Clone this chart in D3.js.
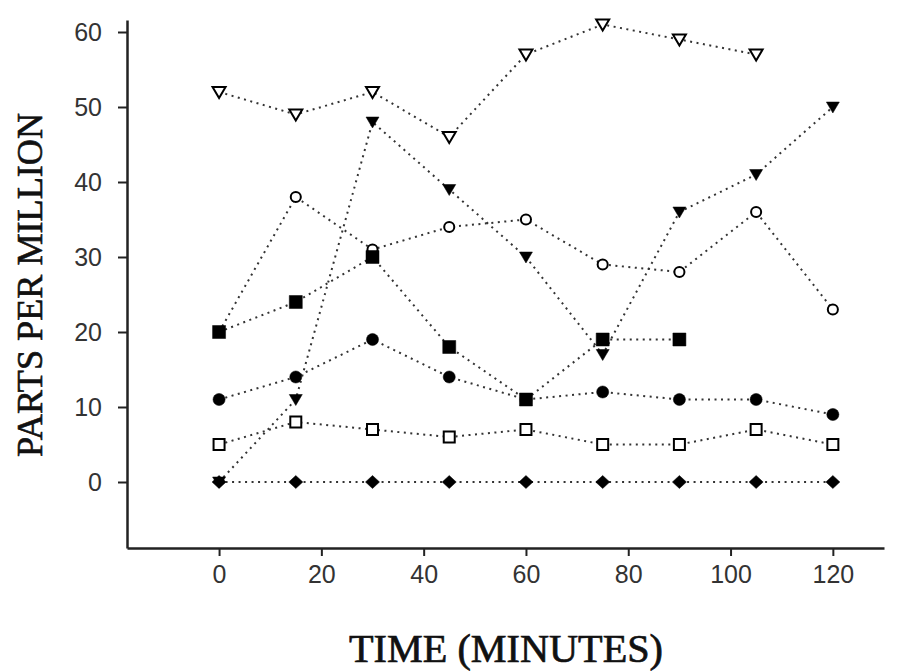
<!DOCTYPE html>
<html>
<head>
<meta charset="utf-8">
<script src="https://cdn.jsdelivr.net/npm/d3@7"></script>
<style>
  body { margin: 0; background: #fff; }
</style>
</head>
<body>
<div id="chart"></div>
<script>
// sampling times (minutes) and ppm readings per series
const times = [0, 15, 30, 45, 60, 75, 90, 105, 120];
const openTriangle = [52, 49, 52, 46, 57, 61, 59, 57, null];
const filledTriangle = [0, 11, 48, 39, 30, 17, 36, 41, 50];
const openCircle = [20, 38, 31, 34, 35, 29, 28, 36, 23];
const filledSquare = [20, 24, 30, 18, 11, 19, 19, null, null];
const filledCircle = [11, 14, 19, 14, 11, 12, 11, 11, 9];
const openSquare = [5, 8, 7, 6, 7, 5, 5, 7, 5];
const filledDiamond = [0, 0, 0, 0, 0, 0, 0, 0, 0];

const xTicks = [0, 20, 40, 60, 80, 100, 120];
const yTicks = [0, 10, 20, 30, 40, 50, 60];

const width = 900, height = 671;

const svg = d3.select("#chart").append("svg")
    .attr("width", width)
    .attr("height", height);

const x = d3.scaleLinear().domain([-18, 130]).range([127, 884]);
const y = d3.scaleLinear().domain([-8.8, 61.6]).range([548, 20]);

// axes
const xAxis = svg.append("g")
    .attr("transform", `translate(0,${y.range()[0]})`)
    .call(d3.axisBottom(x).tickValues(xTicks).tickSize(8).tickPadding(9).tickSizeOuter(0));
const yAxis = svg.append("g")
    .attr("transform", `translate(${x.range()[0]},0)`)
    .call(d3.axisLeft(y).tickValues(yTicks).tickSize(9).tickPadding(16).tickSizeOuter(0));

[xAxis, yAxis].forEach(g => {
    g.select(".domain").attr("stroke", "#222").attr("stroke-width", 2.5);
    g.selectAll(".tick line").attr("stroke", "#222").attr("stroke-width", 2);
    g.selectAll(".tick text")
        .attr("font-family", "'Liberation Sans', Arial, sans-serif")
        .attr("font-size", "25px")
        .attr("fill", "#333");
});

// axis titles
svg.append("text")
    .attr("x", 506)
    .attr("y", 662)
    .attr("text-anchor", "middle")
    .attr("font-family", "'Liberation Serif', 'Times New Roman', serif")
    .attr("font-size", "40px")
    .attr("textLength", 314)
    .attr("lengthAdjust", "spacingAndGlyphs")
    .attr("fill", "#111")
    .attr("stroke", "#111")
    .attr("stroke-width", 0.7)
    .text("TIME (MINUTES)");

svg.append("text")
    .attr("transform", "translate(42,285) rotate(-90)")
    .attr("text-anchor", "middle")
    .attr("font-family", "'Liberation Serif', 'Times New Roman', serif")
    .attr("font-size", "36px")
    .attr("textLength", 344)
    .attr("lengthAdjust", "spacingAndGlyphs")
    .attr("fill", "#111")
    .attr("stroke", "#111")
    .attr("stroke-width", 0.6)
    .text("PARTS PER MILLION");

// marker shapes
const shapes = {
    triangle: "M-6.5,-5L6.5,-5L0,6Z",
    circle: d3.symbol(d3.symbolCircle, 115)(),
    ring: d3.symbol(d3.symbolCircle, 80)(),
    square: "M-6.5,-6.5H6.5V6.5H-6.5Z",
    box: "M-5.5,-5.5H5.5V5.5H-5.5Z",
    diamond: "M0,-6.5L7,0L0,6.5L-7,0Z"
};

const series = [
    {name: "filledDiamond", values: filledDiamond, shape: "diamond", filled: true},
    {name: "openSquare", values: openSquare, shape: "box", filled: false},
    {name: "filledCircle", values: filledCircle, shape: "circle", filled: true},
    {name: "openCircle", values: openCircle, shape: "ring", filled: false},
    {name: "filledSquare", values: filledSquare, shape: "square", filled: true},
    {name: "filledTriangle", values: filledTriangle, shape: "triangle", filled: true},
    {name: "openTriangle", values: openTriangle, shape: "triangle", filled: false}
];

const line = d3.line()
    .defined(d => d[1] != null)
    .x(d => x(d[0]))
    .y(d => y(d[1]));

// dotted connecting lines
svg.append("g").selectAll("path")
    .data(series)
    .enter()
    .append("path")
    .attr("d", s => line(times.map((t, i) => [t, s.values[i]])))
    .attr("fill", "none")
    .attr("stroke", "#333")
    .attr("stroke-width", 2)
    .attr("stroke-dasharray", "2,4.5");

// markers
series.forEach(s => {
    const pts = times.map((t, i) => [t, s.values[i]]).filter(d => d[1] != null);
    svg.append("g").selectAll("path")
        .data(pts)
        .enter()
        .append("path")
        .attr("transform", d => `translate(${x(d[0])},${y(d[1])})`)
        .attr("d", shapes[s.shape])
        .attr("fill", s.filled ? "#000" : "#fff")
        .attr("stroke", "#000")
        .attr("stroke-width", s.filled ? 0.5 : 2);
});
</script>
</body>
</html>
